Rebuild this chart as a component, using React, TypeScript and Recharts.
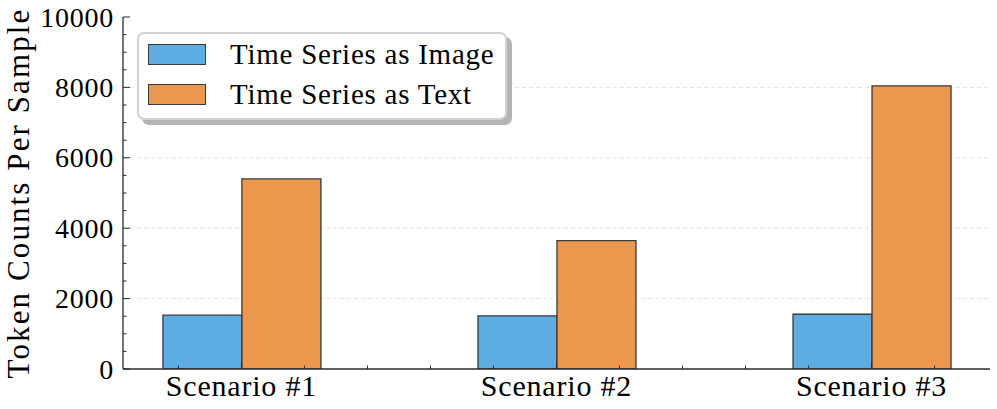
import React from 'react';
import { BarChart, Bar, XAxis, YAxis, CartesianGrid, Legend } from 'recharts';

const scenarios = ['Scenario #1', 'Scenario #2', 'Scenario #3'];
const positions = [0, 1, 2];
const imageTokens = [1530, 1510, 1555];
const textTokens = [5400, 3645, 8045];
const seriesNames = ['Time Series as Image', 'Time Series as Text'];

const yMajorTicks = [0, 2000, 4000, 6000, 8000, 10000];
const yAllTicks = [0, 500, 1000, 1500, 2000, 2500, 3000, 3500, 4000, 4500, 5000, 5500, 6000, 6500, 7000, 7500, 8000, 8500, 9000, 9500, 10000];
const xAllTicks = [-0.2, 0, 0.2, 0.4, 0.6, 0.8, 1, 1.2, 1.4, 1.6, 1.8, 2, 2.2];
const gridValues = [2000, 4000, 6000, 8000];
const xDomain = [-0.376, 2.376];
const yDomain = [0, 10000];

const data = positions.map((p, i) => ({
  x: p,
  name: scenarios[i],
  image: imageTokens[i],
  text: textTokens[i],
}));

const FONT = '"Liberation Serif", "Times New Roman", serif';
const AXIS = '#2b2b2b';
const BLUE = '#5DADE2';
const ORANGE = '#EB984E';
const EDGE = '#3a3a3a';
const MAJOR = 7;
const MINOR = 3.5;

const LeftTick = (props: any) => {
  const { x, y, payload } = props;
  const major = yMajorTicks.includes(payload.value);
  return (
    <g>
      <line x1={x} x2={x + (major ? MAJOR : MINOR)} y1={y} y2={y} stroke={AXIS} strokeWidth={1} />
      {major && (
        <text
          x={x - 9}
          y={y + 9.5}
          textAnchor="end"
          fontSize={28}
          letterSpacing={0.75}
          fontFamily={FONT}
          fill="#000"
        >
          {payload.value}
        </text>
      )}
    </g>
  );
};

const RightTick = (props: any) => {
  const { x, y, payload } = props;
  const major = yMajorTicks.includes(payload.value);
  return <line x1={x} x2={x - (major ? MAJOR : MINOR)} y1={y} y2={y} stroke={AXIS} strokeWidth={1} />;
};

const BottomTick = (props: any) => {
  const { x, y, payload } = props;
  const idx = positions.indexOf(payload.value);
  const major = idx >= 0;
  return (
    <g>
      <line x1={x} x2={x} y1={y} y2={y - (major ? MAJOR : MINOR)} stroke={AXIS} strokeWidth={1} />
      {major && (
        <text
          x={x}
          y={y + 27}
          textAnchor="middle"
          fontSize={30}
          letterSpacing={0.8}
          fontFamily={FONT}
          fill="#000"
        >
          {scenarios[idx]}
        </text>
      )}
    </g>
  );
};

const TopTick = (props: any) => {
  const { x, y, payload } = props;
  const major = positions.includes(payload.value);
  return <line x1={x} x2={x} y1={y} y2={y + (major ? MAJOR : MINOR)} stroke={AXIS} strokeWidth={1} />;
};

const YLabel = (props: any) => {
  const vb = props.viewBox || {};
  const cx = (vb.x ?? 63) - 34;
  const cy = (vb.y ?? 17) + (vb.height ?? 352) / 2;
  return (
    <text
      x={cx}
      y={cy}
      transform={`rotate(-90, ${cx}, ${cy})`}
      textAnchor="middle"
      fontSize={31}
      letterSpacing={2.1}
      fontFamily={FONT}
      fill="#000"
    >
      Token Counts Per Sample
    </text>
  );
};

const LegendBox = (props: any) => {
  const payload = props.payload || [];
  return (
    <div
      style={{
        border: '2px solid #d2d2d2',
        borderRadius: 7,
        background: '#fff',
        boxShadow: '5px 5px 0 #b4b4b4',
        padding: '0px 10px 4px 9px',
        width: 347,
        boxSizing: 'content-box',
      }}
    >
      {payload.map((p: any, i: number) => (
        <div key={i} style={{ display: 'flex', alignItems: 'center', height: 40 }}>
          <div
            style={{
              width: 56,
              height: 19,
              background: p.color,
              border: `1.5px solid ${EDGE}`,
              marginRight: 24,
              flex: 'none',
            }}
          />
          <span
            style={{
              fontFamily: FONT,
              fontSize: 29,
              letterSpacing: 0.75,
              color: '#000',
              whiteSpace: 'nowrap',
              lineHeight: '40px',
            }}
          >
            {p.value}
          </span>
        </div>
      ))}
    </div>
  );
};

export default function App() {
  return (
    <div style={{ position: 'absolute', left: 0, top: 0, width: 997, height: 409, background: '#fff' }}>
      <BarChart
        width={997}
        height={409}
        data={data}
        margin={{ top: 17, right: 7, bottom: 10, left: 63 }}
        barGap={0}
      >
        <CartesianGrid
          xAxisId="bottom"
          yAxisId="left"
          vertical={false}
          horizontalValues={gridValues}
          stroke="#dcdcdc"
          strokeDasharray="4 3"
          strokeWidth={0.8}
        />
        <XAxis
          xAxisId="bottom"
          dataKey="x"
          type="number"
          domain={xDomain}
          allowDataOverflow
          ticks={xAllTicks}
          interval={0}
          tickSize={0}
          tickMargin={0}
          tickLine={false}
          tick={<BottomTick />}
          axisLine={{ stroke: AXIS, strokeWidth: 1.3 }}
          height={30}
        />
        <XAxis
          xAxisId="top"
          orientation="top"
          dataKey="x"
          type="number"
          domain={xDomain}
          allowDataOverflow
          ticks={xAllTicks}
          interval={0}
          tickSize={0}
          tickMargin={0}
          tickLine={false}
          tick={<TopTick />}
          axisLine={{ stroke: AXIS, strokeWidth: 1.3 }}
          height={0}
        />
        <YAxis
          yAxisId="left"
          type="number"
          domain={yDomain}
          allowDataOverflow
          ticks={yAllTicks}
          interval={0}
          tickSize={0}
          tickMargin={0}
          tickLine={false}
          tick={<LeftTick />}
          axisLine={{ stroke: AXIS, strokeWidth: 1.3 }}
          width={60}
          label={<YLabel />}
        />
        <YAxis
          yAxisId="right"
          orientation="right"
          type="number"
          domain={yDomain}
          allowDataOverflow
          ticks={yAllTicks}
          interval={0}
          tickSize={0}
          tickMargin={0}
          tickLine={false}
          tick={<RightTick />}
          axisLine={{ stroke: AXIS, strokeWidth: 1.3 }}
          width={0}
        />
        <Legend
          layout="horizontal"
          verticalAlign="middle"
          align="center"
          content={<LegendBox />}
          wrapperStyle={{ left: 137, top: 32, width: 'auto', height: 'auto' }}
        />
        <Bar
          xAxisId="bottom"
          yAxisId="left"
          dataKey="image"
          name={seriesNames[0]}
          fill={BLUE}
          stroke={EDGE}
          strokeWidth={1.3}
          barSize={79}
          isAnimationActive={false}
        />
        <Bar
          xAxisId="bottom"
          yAxisId="left"
          dataKey="text"
          name={seriesNames[1]}
          fill={ORANGE}
          stroke={EDGE}
          strokeWidth={1.3}
          barSize={79}
          isAnimationActive={false}
        />
      </BarChart>
    </div>
  );
}
